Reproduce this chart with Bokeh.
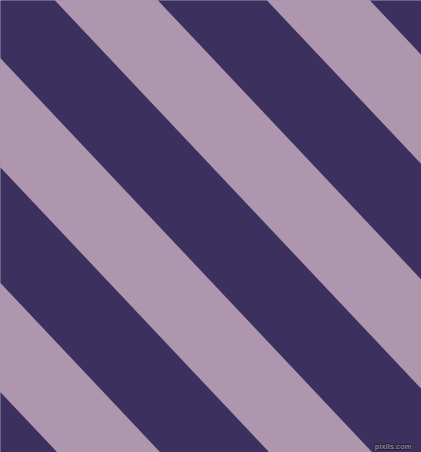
from bokeh.plotting import figure
from bokeh.models import Range1d, ColumnDataSource
from bokeh.embed import file_html
from bokeh.resources import INLINE
from bokeh.core.properties import value

# Stripe boundaries, measured as u = x - y / slope on the reference (pixels)
slope = 1.06
dark_starts = [-478.5, -266.5, -54.5, 157.5, 369.5]
dark_ends = [-369.5, -157.5, 54.5, 266.5, 478.5]
light_starts = [-369.5, -157.5, 54.5, 266.5]
light_ends = [-266.5, -54.5, 157.5, 369.5]
dark_color = "#3C305E"
light_color = "#AE96AE"
watermark = "pixlis.com"

y_top, y_bottom = -20, 480


def stripe_polys(starts, ends):
    xs, ys = [], []
    for u0, u1 in zip(starts, ends):
        xs.append([u0 + y_top / slope, u1 + y_top / slope,
                   u1 + y_bottom / slope, u0 + y_bottom / slope])
        ys.append([y_top, y_top, y_bottom, y_bottom])
    return xs, ys


p = figure(width=421, height=452, output_backend="svg", toolbar_location=None,
           x_range=Range1d(0, 421), y_range=Range1d(452, 0), min_border=0)
p.axis.visible = False
p.grid.visible = False
p.outline_line_color = None
p.background_fill_color = dark_color
p.border_fill_color = dark_color

dx, dy = stripe_polys(dark_starts, dark_ends)
lx, ly = stripe_polys(light_starts, light_ends)
p.patches(xs=dx, ys=dy, fill_color=dark_color, line_color=None)
p.patches(xs=lx, ys=ly, fill_color=light_color, line_color=None)

src = ColumnDataSource(dict(x=[411], y=[446], t=[watermark]))
for ox, oy in [(-0.7, 0), (0.7, 0), (0, -0.7), (0, 0.7)]:
    p.text(x="x", y="y", text="t", source=src, x_offset=ox, y_offset=oy,
           text_font=value("Liberation Sans"), text_font_size="7.5px", text_font_style="bold",
           text_color="#1A1528", text_align="right", text_baseline="alphabetic")
p.text(x="x", y="y", text="t", source=src,
       text_font=value("Liberation Sans"), text_font_size="7.5px", text_font_style="bold",
       text_color="#8E8A9E", text_align="right", text_baseline="alphabetic")

open("out.html", "w").write(file_html(p, INLINE))
